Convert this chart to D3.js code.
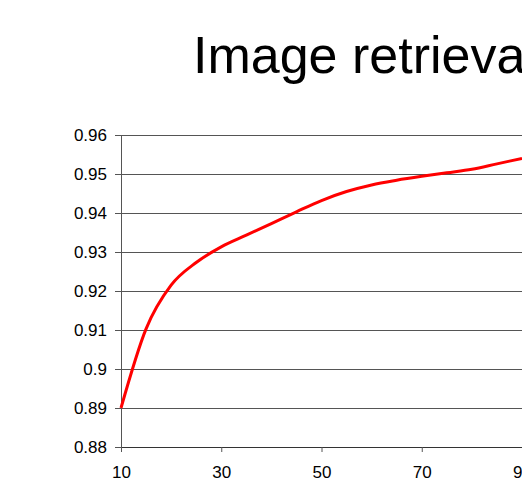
<!DOCTYPE html>
<html>
<head>
<meta charset="utf-8">
<script src="https://cdn.jsdelivr.net/npm/d3@7"></script>
<style>
  body { margin: 0; background: #fff; overflow: hidden; }
  text { font-family: "Liberation Sans", Arial, Helvetica, sans-serif; fill: #000; }
</style>
</head>
<body>
<div id="chart"></div>
<script>
// waarden
var xValues = [10, 15, 20, 25, 30, 35, 40, 45, 50, 55, 60, 65, 70, 75, 80, 85, 90]
var yValues = [0.890, 0.9103, 0.9215, 0.9273, 0.9313, 0.9343, 0.9373, 0.9403, 0.9432,
               0.9455, 0.9472, 0.9484, 0.9494, 0.9503, 0.9512, 0.9526, 0.9540]
var yTicks = [0.88, 0.89, 0.9, 0.91, 0.92, 0.93, 0.94, 0.95, 0.96]
var xTicks = [10, 30, 50, 70, 90]
var title = "Image retrieval"

window.onload = function() {

  var width = 522
  var height = 482
  var margin = {top: 135, left: 121}

  var svg = d3.select("#chart")
      .append("svg")
      .attr("width", width)
      .attr("height", height)

  var data = xValues.map(function(d, i) {
    return {x: d, y: yValues[i]}
  })

  // x-schaal: 10 -> 121px, 90 -> ~522px
  var xScale = d3.scaleLinear()
      .domain([10, 90])
      .range([0, 401])

  var yScale = d3.scaleLinear()
      .domain([0.88, 0.96])
      .range([312, 0])

  var g = svg.append("g")
      .attr("transform", "translate(" + margin.left + "," + margin.top + ")")

  // horizontale rasterlijnen
  g.append("g").attr("class", "grid").selectAll("line")
      .data(yTicks.slice(1))
      .enter()
      .append("line")
      .attr("x1", 0)
      .attr("x2", width)
      .attr("y1", function(d) { return Math.round(yScale(d)) + 0.5 })
      .attr("y2", function(d) { return Math.round(yScale(d)) + 0.5 })
      .attr("stroke", "#555")
      .attr("stroke-width", 1)

  // y-as
  var yAxis = g.append("g")
      .attr("class", "y-axis")
      .call(d3.axisLeft(yScale)
        .tickValues(yTicks)
        .tickSize(6)
        .tickPadding(8)
        .tickFormat(function(d) { return String(+d.toFixed(2)) }))
  yAxis.select(".domain").attr("stroke", "#555").attr("d", "M0.5,0V312.5")
  yAxis.selectAll(".tick line").attr("stroke", "#555")
  yAxis.selectAll("text")
      .style("font-size", "17px")
      .attr("fill", "#111")
      .style("font-family", "Liberation Sans, Arial, sans-serif")

  // x-as
  var xAxis = g.append("g")
      .attr("class", "x-axis")
      .attr("transform", "translate(0,312)")
      .call(d3.axisBottom(xScale)
        .tickValues(xTicks)
        .tickSize(5)
        .tickPadding(14))
  xAxis.select(".domain").attr("stroke", "#333").attr("d", "M0,0.5H" + width)
  xAxis.selectAll(".tick line").attr("stroke", "#555")
  xAxis.selectAll("text")
      .style("font-size", "17px")
      .attr("fill", "#111")
      .style("font-family", "Liberation Sans, Arial, sans-serif")

  // de lijn
  var line = d3.line()
      .x(function(d) { return xScale(d.x) })
      .y(function(d) { return yScale(d.y) })
      .curve(d3.curveMonotoneX)

  g.append("path")
      .datum(data)
      .attr("class", "line")
      .attr("fill", "none")
      .attr("stroke", "#ff0000")
      .attr("stroke-width", 3)
      .attr("stroke-linejoin", "round")
      .attr("d", line)

  // titel
  svg.append("text")
      .attr("x", 193)
      .attr("y", 73)
      .style("font-size", "52px")
      .text(title)
}
</script>
</body>
</html>
